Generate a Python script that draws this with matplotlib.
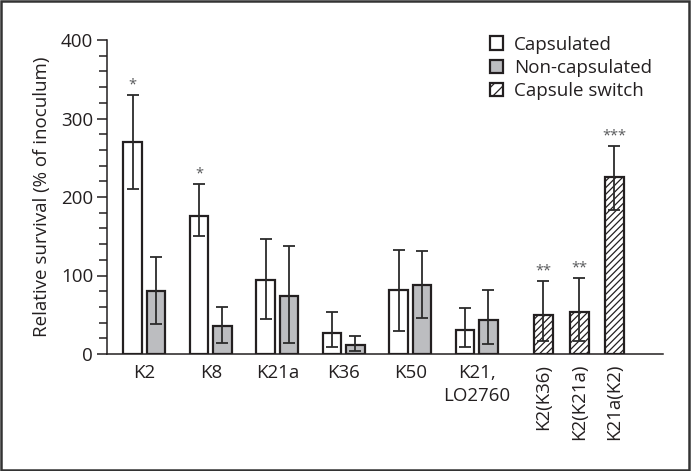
import matplotlib
matplotlib.use("Agg")
import matplotlib.pyplot as plt
from matplotlib.patches import Rectangle, Patch
import numpy as np

plt.rcParams['font.family'] = ['Open Sans', 'DejaVu Sans']

# ---- data ----
groups = ["K2", "K8", "K21a", "K36", "K50", "K21,\nLO2760"]
cap_vals = [270, 176, 94, 27, 81, 31]
cap_err_up = [60, 41, 53, 27, 52, 27]
cap_err_lo = [60, 26, 50, 18, 52, 22]
non_vals = [80, 36, 74, 12, 88, 43]
non_err_up = [43, 24, 63, 11, 43, 39]
non_err_lo = [42, 22, 60, 8, 42, 30]
cap_stars = ["*", "*", "", "", "", ""]

switch_labels = ["K2(K36)", "K2(K21a)", "K21a(K2)"]
switch_vals = [50, 53, 226]
switch_err_up = [43, 44, 39]
switch_err_lo = [34, 37, 42]
switch_stars = ["**", "**", "***"]

ylabel = "Relative survival (% of inoculum)"
legend_labels = ["Capsulated", "Non-capsulated", "Capsule switch"]

# ---- layout ----
W, H = 691, 471
fig = plt.figure(figsize=(W / 100, H / 100), dpi=100)
ax = fig.add_axes([107 / W, (H - 354) / H, (663 - 107) / W, (354 - 40) / H])

ink = "#231f20"
ecol = "#2b2b2b"
gray = "#bcbdc0"
star_col = "#58595b"
fs = 13.5

gx = np.arange(len(groups), dtype=float)
off = 0.175
bw = 0.28
sx = np.array([6.0, 6.54, 7.07])

bar_kw = dict(width=bw, edgecolor=ink, linewidth=1.6, zorder=2)
err_kw = dict(fmt="none", ecolor=ecol, elinewidth=1.3, capsize=4.2, capthick=1.3, zorder=3)

ax.bar(gx - off, cap_vals, color="white", **bar_kw)
ax.errorbar(gx - off, cap_vals, yerr=[cap_err_lo, cap_err_up], **err_kw)
ax.bar(gx + off, non_vals, color=gray, **bar_kw)
ax.errorbar(gx + off, non_vals, yerr=[non_err_lo, non_err_up], **err_kw)

plt.rcParams['hatch.linewidth'] = 0.9
plt.rcParams['hatch.color'] = ink
ax.bar(sx, switch_vals, color="white", hatch="/////", **bar_kw)
ax.errorbar(sx, switch_vals, yerr=[switch_err_lo, switch_err_up], **err_kw)

for x, v, e, s in zip(gx - off, cap_vals, cap_err_up, cap_stars):
    if s:
        ax.text(x, v + e + 3, s, ha="center", va="bottom", fontsize=10.5, color=star_col)
for x, v, e, s in zip(sx, switch_vals, switch_err_up, switch_stars):
    ax.text(x, v + e + 3, s, ha="center", va="bottom", fontsize=10.5, color=star_col)

ax.set_xlim(-0.56, 7.80)
ax.set_ylim(0, 400)
ax.set_yticks([0, 100, 200, 300, 400])
ax.set_yticks(np.arange(0, 401, 20), minor=True)
ax.tick_params(axis="y", which="both", direction="out", length=7, width=1.1,
               colors=ink, labelsize=fs, pad=3)
ax.tick_params(axis="y", which="minor", length=6)

ax.set_xticks(list(gx) + list(sx))
labels = groups + switch_labels
ax.set_xticklabels(labels, fontsize=fs, color=ink)
for t, lab in zip(ax.get_xticklabels(), labels):
    if lab in switch_labels:
        t.set_rotation(90)
    t.set_linespacing(1.35)
ax.tick_params(axis="x", length=0, pad=7)

for s in ["top", "right"]:
    ax.spines[s].set_visible(False)
for s in ["left", "bottom"]:
    ax.spines[s].set_color(ink)
    ax.spines[s].set_linewidth(1.1)

ax.set_ylabel(ylabel, fontsize=fs, color=ink, labelpad=7)

handles = [Patch(facecolor="white", edgecolor=ink, linewidth=1.6),
           Patch(facecolor=gray, edgecolor=ink, linewidth=1.6),
           Patch(facecolor="white", edgecolor=ink, linewidth=1.6, hatch="///")]
leg = ax.legend(handles, legend_labels, loc="upper right", bbox_to_anchor=(1.0, 1.05),
                frameon=False, fontsize=fs, handlelength=0.7, handleheight=0.7,
                handletextpad=0.55, labelspacing=0.28, borderaxespad=0.2)
for t in leg.get_texts():
    t.set_color(ink)

fig.patches.append(Rectangle((0.002, 0.003), 0.995, 0.994, transform=fig.transFigure,
                             fill=False, edgecolor="#333333", linewidth=1.8))

fig.savefig("out.png", dpi=100)
